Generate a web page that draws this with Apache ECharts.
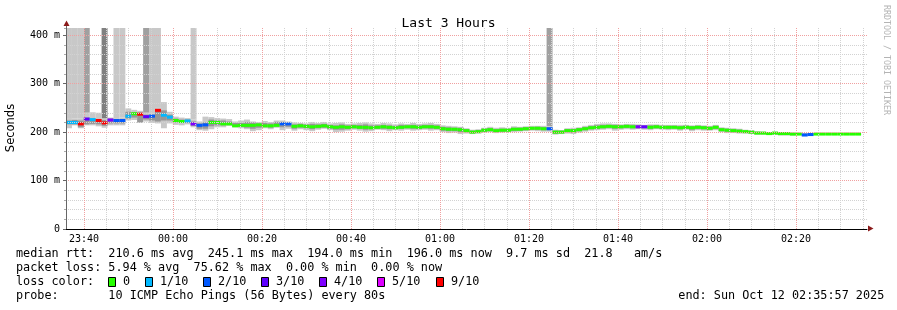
<!DOCTYPE html>
<html><head><meta charset="utf-8">
<script src="https://cdn.jsdelivr.net/npm/echarts@6/dist/echarts.min.js"></script>
<style>html,body{margin:0;padding:0;background:#fff}#c{width:897px;height:310px}</style>
</head><body><div id="c"></div><script>
// time axis: minutes after 23:00 (previous day); window 23:35:57 -> 02:35:57
const windowStart = 35.95;
const windowEnd = 215.95;
const stepMinutes = 80 / 60;
const yMax = 415;
const yTickLabels = ['0', '100 m', '200 m', '300 m', '400 m'];
const xTickLabels = ['23:40', '00:00', '00:20', '00:40', '01:00', '01:20', '01:40', '02:00', '02:20'];

// median RTT per 80 s step (ms)
const median = [
 220,220,217,227,226,224,219,225,224,224,
 233,238,237,232,233,245,235,231,224,222,
 223,217,214,215,220,220,217,217,213,214,
 214,214,215,213,213,214,217,217,212,213,
 212,211,212,213,211,210,211,210,211,210,
 210,209,210,211,210,209,210,211,211,210,
 211,211,210,207,206,206,205,203,200,201,
 204,205,203,204,204,206,206,207,208,208,
 207,207,200,200,203,203,205,207,209,210,
 211,212,211,211,212,211,211,211,210,211,
 210,210,210,209,210,209,210,209,208,210,
 205,204,203,202,201,200,198,198,197,198,
 197,197,196,196,194,195,196,196,196,196,
 196,196,196,196];
// lost pings out of 10 per step
const lossTenths = [
 1,1,7,3,1,7,7,4,2,2,
 1,0,7,3,2,7,1,1,0,0,
 1,4,2,2,0,0,0,0,0,0,
 0,0,0,0,0,0,2,2,0,0,
 0,0,0,0,0,0,0,0,0,0,
 0,0,0,0,0,0,0,0,0,0,
 0,0,0,0,0,0,0,0,0,0,
 0,0,0,0,0,0,0,0,0,0,
 0,2,0,0,0,0,0,0,0,0,
 0,0,0,0,0,0,4,3,0,0,
 0,0,0,0,0,0,0,0,0,0,
 0,0,0,0,0,0,0,0,0,0,
 0,0,0,0,2,2,0,0,0,0,
 0,0,0,0];
// smoke: outer (light) and inner (darker) ping spread, ms
const smokeOuterLo = [
 208,214,208,214,214,212,209,214,214,214,
 224,225,219,222,219,218,208,218,215,214,
 216,210,204,203,206,210,210,213,210,208,
 206,202,204,208,206,209,204,207,203,206,
 204,202,205,207,204,200,201,203,205,203,
 201,202,205,204,202,204,203,205,203,204,
 205,203,204,200,198,199,196,197,196,197,
 199,200,198,199,200,200,201,202,203,202,
 201,201,195,196,197,196,199,201,203,204,
 205,206,203,205,206,205,206,205,204,206,
 205,204,205,203,205,202,204,203,203,204,
 200,198,198,197,197,196,195,195,194,194,
 193,193,193,194,192,193,194,194,194,194,
 195,194,194,194];
const smokeInnerLo = [
 216,216,210,216,217,216,213,218,218,218,
 228,230,220,226,224,222,224,224,220,219,
 219,213,207,207,212,214,214,215,212,211,
 209,207,209,211,209,212,210,211,207,209,
 208,206,208,209,207,205,205,206,208,207,
 205,206,207,207,206,207,207,208,207,207,
 208,207,207,203,202,202,200,200,198,199,
 201,202,201,201,202,203,203,204,205,205,
 204,204,197,198,200,199,202,204,206,207,
 208,209,207,208,209,208,208,208,207,208,
 207,207,208,206,207,205,207,206,205,207,
 202,201,200,199,199,198,196,196,195,196,
 195,195,194,195,193,194,195,195,195,195,
 195,195,195,195];
const smokeInnerHi = [
 224,225,224,230,228,227,225,228,227,227,
 242,241,240,236,236,246,245,236,228,226,
 226,222,218,220,226,224,224,222,219,219,
 221,220,218,219,218,221,221,219,216,217,
 216,217,216,217,215,214,216,214,215,215,
 216,214,214,215,214,213,215,214,215,214,
 215,215,214,211,210,209,209,206,203,204,
 207,208,206,207,207,209,209,210,210,211,
 210,210,203,203,206,206,208,210,212,214,
 215,215,215,214,215,214,214,213,214,214,
 213,213,213,212,213,212,213,212,211,213,
 208,207,206,205,203,202,200,200,199,199,
 199,199,198,197,197,197,197,197,197,197,
 197,197,197,197];
const smokeOuterHi = [
 229,228,228,240,241,240,228,230,229,230,
 249,246,244,240,238,250,262,242,232,230,
 229,226,222,232,231,229,228,227,222,224,
 226,222,221,223,221,224,224,222,220,219,
 218,221,219,221,218,219,220,217,218,219,
 220,218,217,219,218,216,218,217,219,217,
 218,219,217,214,213,212,211,208,205,206,
 209,211,209,210,209,212,211,212,213,213,
 213,212,205,204,208,209,210,213,215,217,
 218,218,217,216,217,217,216,215,216,216,
 215,215,215,215,215,214,215,214,213,215,
 210,209,208,207,205,204,202,201,200,201,
 200,200,199,198,198,198,198,198,198,198,
 198,198,198,198];
// steps where some pings went off the top of the chart, and how many bands reached it
const spikeSteps = [0,1,2,3,6,8,9,13,14,15,21,81];
const spikeShade = [0,0,0,1,2,0,0,1,0,0,0,1];

const lossLevels = [0, 1, 2, 3, 4, 5, 9];
const lossLabels = ['0', '1/10', '2/10', '3/10', '4/10', '5/10', '9/10'];
const lossColors = ['#26ff00', '#00b8ff', '#0059ff', '#5e00ff', '#7e00ff', '#dd00ff', '#ff0000'];
const shadeColors = ['#c8c8c8', '#a0a0a0', '#808080'];

function lossColor(l) {
  for (let i = 0; i < lossLevels.length; i++) if (l <= lossLevels[i]) return lossColors[i];
  return lossColors[lossColors.length - 1];
}

// grid scaffold: one category every 3 s across the window, so ticks fall on exact clock times
const startSecOfDay = 23 * 3600 + 35 * 60 + 57;
const gridStepSec = 3;
const gridCats = [];
for (let s = 0; s <= 10800; s += gridStepSec) {
  const d = (startSecOfDay + s) % 86400;
  const h = Math.floor(d / 3600), m = Math.floor(d / 60) % 60, sec = d % 60;
  gridCats.push(String(h).padStart(2, '0') + ':' + String(m).padStart(2, '0') + ':' + String(sec).padStart(2, '0'));
}
const onEvery = (sec) => (idx) => idx > 0 && idx < gridCats.length - 1 && (startSecOfDay + idx * gridStepSec) % sec === 0;

const stepData = median.map((m, i) => [windowStart + i * stepMinutes, m, lossTenths[i],
  smokeOuterLo[i], smokeInnerLo[i], smokeInnerHi[i], smokeOuterHi[i]]);
const spikeData = spikeSteps.map((k, j) => [windowStart + k * stepMinutes, smokeOuterHi[k], spikeShade[j]]);

function xSpan(api, t) {
  const a = api.coord([t, 0])[0], b = api.coord([t + stepMinutes, 0])[0];
  return [a, b - a];
}
const MONO = '"DejaVu Sans Mono", monospace';
const chart = echarts.init(document.getElementById('c'), null, {renderer: 'canvas'});

const legendFont = '11.8px ' + MONO;
const graphics = [
  {type: 'text', x: 11, y: 128, rotation: Math.PI / 2,
   style: {text: 'Seconds', align: 'center', verticalAlign: 'middle', font: '11.5px "DejaVu Sans", sans-serif', fill: '#000'}},
  {type: 'text', x: 886, y: 5, rotation: -Math.PI / 2,
   style: {text: 'RRDTOOL / TOBI OETIKER', align: 'left', verticalAlign: 'middle', font: '8.3px ' + MONO, fill: '#b4b4b4'}},
  {type: 'polygon', shape: {points: [[868, 225.5], [873.5, 228.5], [868, 231.5]]}, style: {fill: '#8b1a1a'}},
  {type: 'line', shape: {x1: 66.5, y1: 28, x2: 66.5, y2: 24}, style: {stroke: '#666', lineWidth: 1}},
  {type: 'polygon', shape: {points: [[63.5, 26], [66.5, 20.5], [69.5, 26]]}, style: {fill: '#8b1a1a'}},
  {type: 'text', x: 16, y: 254.3, style: {text: 'median rtt:  210.6 ms avg  245.1 ms max  194.0 ms min  196.0 ms now  9.7 ms sd  21.8   am/s', font: legendFont, fill: '#000', verticalAlign: 'middle'}},
  {type: 'text', x: 16, y: 268.3, style: {text: 'packet loss: 5.94 % avg  75.62 % max  0.00 % min  0.00 % now', font: legendFont, fill: '#000', verticalAlign: 'middle'}},
  {type: 'text', x: 16, y: 282.3, style: {text: 'loss color:', font: legendFont, fill: '#000', verticalAlign: 'middle'}},
  {type: 'text', x: 16, y: 296.3, style: {text: 'probe:       10 ICMP Echo Pings (56 Bytes) every 80s', font: legendFont, fill: '#000', verticalAlign: 'middle'}},
  {type: 'text', x: 678.3, y: 296.3, style: {text: 'end: Sun Oct 12 02:35:57 2025', font: legendFont, fill: '#000', verticalAlign: 'middle'}}
];
const boxLefts = [108.5, 145.5, 203.5, 261.5, 319.5, 377.5, 436.5];
lossLabels.forEach((lab, i) => {
  graphics.push({type: 'rect', shape: {x: boxLefts[i], y: 277.5, width: 7, height: 9},
    style: {fill: lossColors[i], stroke: '#000', lineWidth: 1}});
  graphics.push({type: 'text', x: boxLefts[i] + 14.5, y: 282.3,
    style: {text: lab, font: legendFont, fill: '#000', verticalAlign: 'middle'}});
});

const option = {
  animation: false,
  backgroundColor: '#fff',
  title: {text: 'Last 3 Hours', left: 'center', top: 12,
    textStyle: {fontFamily: MONO, fontSize: 13, fontWeight: 'normal', color: '#000'}},
  grid: {left: 66, right: 30, top: 28, bottom: 81},
  xAxis: [
    {type: 'value', position: 'bottom', min: windowStart, max: windowEnd, show: false},
    {type: 'category', position: 'bottom', data: gridCats, boundaryGap: false, z: 5,
     axisLine: {show: false}, axisTick: {show: false}, axisLabel: {show: false},
     splitLine: {show: true, interval: onEvery(300), lineStyle: {color: '#d2d2d2', type: 'dotted', width: 1}}},
    {type: 'category', position: 'bottom', data: gridCats, boundaryGap: false, z: 6,
     axisLine: {show: true, onZero: false, lineStyle: {color: '#000', width: 1}},
     axisTick: {show: false},
     axisLabel: {interval: onEvery(1200), margin: 5, color: '#000', fontFamily: MONO, fontSize: 10,
       formatter: v => { const s = v.slice(0, 5); return xTickLabels.indexOf(s) >= 0 ? s : ''; }},
     splitLine: {show: true, interval: onEvery(1200), lineStyle: {color: '#f0a0a0', type: 'dotted', width: 1}}}
  ],
  yAxis: [
    {type: 'value', position: 'left', min: 0, max: yMax, interval: 20, z: 5,
     axisLine: {show: false}, axisLabel: {show: false},
     axisTick: {show: true, length: 2, lineStyle: {color: '#aaa'}},
     splitLine: {show: true, showMinLine: false, showMaxLine: false, lineStyle: {color: '#d2d2d2', type: 'dotted', width: 1}}},
    {type: 'value', position: 'left', min: 0, max: yMax, interval: 100, z: 6,
     axisLine: {show: true, lineStyle: {color: '#666', width: 1}},
     axisTick: {show: true, length: 3, lineStyle: {color: '#666'}},
     axisLabel: {showMaxLabel: false, margin: 6, color: '#000', fontFamily: MONO, fontSize: 10,
       formatter: v => yTickLabels[Math.round(v / 100)] || ''},
     splitLine: {show: true, showMinLine: false, showMaxLine: false, lineStyle: {color: '#f0a0a0', type: 'dotted', width: 1}}}
  ],
  series: [
    {type: 'custom', name: 'spikes', xAxisIndex: 0, yAxisIndex: 1, clip: true, z: 1,
     data: spikeData, encode: {x: 0, y: 1},
     renderItem: (params, api) => {
       const [x, w] = xSpan(api, api.value(0));
       const yb = api.coord([0, api.value(1)])[1], yt = api.coord([0, yMax])[1];
       return {type: 'rect', shape: {x: x, y: yt, width: w, height: yb - yt},
         style: {fill: shadeColors[api.value(2)]}};
     }},
    {type: 'custom', name: 'smoke', xAxisIndex: 0, yAxisIndex: 1, clip: true, z: 2,
     data: stepData, encode: {x: 0, y: [3, 6]},
     renderItem: (params, api) => {
       const [x, w] = xSpan(api, api.value(0));
       const oLo = api.coord([0, api.value(3)])[1], iLo = api.coord([0, api.value(4)])[1];
       const iHi = api.coord([0, api.value(5)])[1], oHi = api.coord([0, api.value(6)])[1];
       return {type: 'group', children: [
         {type: 'rect', shape: {x: x, y: oHi, width: w, height: oLo - oHi}, style: {fill: '#c8c8c8'}},
         {type: 'rect', shape: {x: x, y: iHi, width: w, height: iLo - iHi}, style: {fill: '#969696'}}
       ]};
     }},
    {type: 'custom', name: 'median', xAxisIndex: 0, yAxisIndex: 1, clip: true, z: 3,
     data: stepData, encode: {x: 0, y: 1},
     renderItem: (params, api) => {
       const [x, w] = xSpan(api, api.value(0));
       const y = api.coord([0, api.value(1)])[1];
       return {type: 'rect', shape: {x: x, y: y - 1.5, width: w, height: 3},
         style: {fill: lossColor(api.value(2))}};
     }}
  ],
  graphic: graphics
};
chart.setOption(option);
</script></body></html>
